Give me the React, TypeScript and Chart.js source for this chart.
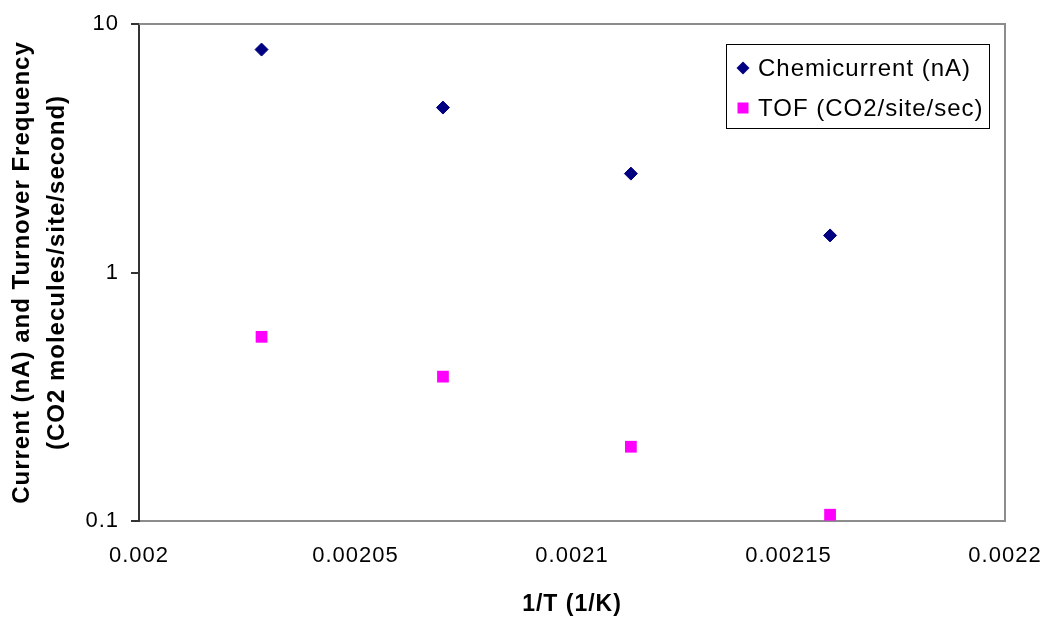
import React, { useEffect, useRef } from "react";
import { Chart, registerables } from "chart.js";

Chart.register(...registerables);

const invT = [0.0020283, 0.0020702, 0.0021136, 0.0021596];
const chemicurrent = [7.89, 4.61, 2.5, 1.41];
const tof = [0.551, 0.381, 0.199, 0.106];
const xTickValues = [0.002, 0.00205, 0.0021, 0.00215, 0.0022];
const yTickValues = [0.1, 1, 10];
const seriesNames = ["Chemicurrent (nA)", "TOF (CO2/site/sec)"];
const yTitle = ["Current (nA) and Turnover Frequency", "(CO2 molecules/site/second)"];
const xTitle = "1/T (1/K)";

const FONT = '"Liberation Sans", Arial, sans-serif';

const spacing = {
  id: "spacing",
  beforeDraw(chart: any) {
    chart.ctx.letterSpacing = "1px";
  },
};

const frameAndLegend = {
  id: "frameAndLegend",
  afterDraw(chart: any) {
    const { ctx, chartArea } = chart;
    ctx.save();
    ctx.strokeStyle = "#8c8c8c";
    ctx.lineWidth = 2;
    ctx.beginPath();
    ctx.moveTo(chartArea.left, chartArea.top);
    ctx.lineTo(chartArea.right, chartArea.top);
    ctx.lineTo(chartArea.right, chartArea.bottom);
    ctx.stroke();

    const bx = 726.5, by = 44.5, bw = 263, bh = 84;
    ctx.fillStyle = "#ffffff";
    ctx.fillRect(bx, by, bw, bh);
    ctx.strokeStyle = "#000000";
    ctx.lineWidth = 1;
    ctx.strokeRect(bx, by, bw, bh);
    ctx.letterSpacing = "1px";
    ctx.font = `24px ${FONT}`;
    ctx.textBaseline = "middle";
    ctx.textAlign = "left";
    const rows = [68, 108];
    chart.data.datasets.forEach((ds: any, i: number) => {
      const cy = rows[i];
      const cx = 743;
      ctx.fillStyle = ds.backgroundColor;
      ctx.beginPath();
      if (ds.pointStyle === "rectRot") {
        const r = 6.5;
        ctx.moveTo(cx - r, cy);
        ctx.lineTo(cx, cy - r);
        ctx.lineTo(cx + r, cy);
        ctx.lineTo(cx, cy + r);
        ctx.closePath();
      } else {
        ctx.rect(cx - 5.5, cy - 5.5, 11, 11);
      }
      ctx.fill();
      ctx.fillStyle = "#000000";
      ctx.fillText(ds.label, 758, cy + 1);
    });
    ctx.restore();
  },
};

export default function App() {
  const ref = useRef<HTMLCanvasElement | null>(null);

  useEffect(() => {
    if (!ref.current) return;
    const chart = new Chart(ref.current, {
      type: "scatter",
      data: {
        datasets: [
          {
            label: seriesNames[0],
            data: invT.map((x, i) => ({ x, y: chemicurrent[i] })),
            backgroundColor: "#000080",
            borderColor: "#000080",
            pointStyle: "rectRot",
            pointRadius: 6.5,
            borderWidth: 1,
          },
          {
            label: seriesNames[1],
            data: invT.map((x, i) => ({ x, y: tof[i] })),
            backgroundColor: "#ff00ff",
            borderColor: "#ff00ff",
            pointStyle: "rect",
            pointRadius: 8.3,
            borderWidth: 0,
          },
        ],
      },
      options: {
        responsive: false,
        animation: false,
        layout: { padding: { top: 24, right: 42, left: 0, bottom: 0 } },
        plugins: {
          legend: { display: false },
          tooltip: { enabled: false },
        },
        scales: {
          x: {
            type: "linear",
            min: 0.002,
            max: 0.0022,
            afterBuildTicks: (scale: any) => {
              scale.ticks = xTickValues.map((v) => ({ value: v }));
            },
            afterFit: (scale: any) => {
              scale.height = 97;
              scale.paddingLeft = 0;
              scale.paddingRight = 0;
            },
            grid: { display: false, drawTicks: false },
            border: { display: true, color: "#8c8c8c", width: 2 },
            ticks: {
              color: "#000000",
              font: { family: FONT, size: 22 },
              padding: 22,
              maxRotation: 0,
              autoSkip: false,
              callback: (v: any) => Number(Number(v).toFixed(6)).toString(),
            },
            title: {
              display: true,
              text: xTitle,
              color: "#000000",
              font: { family: FONT, size: 23, weight: "bold" },
              padding: { top: 0, bottom: 0 },
            },
          },
          y: {
            type: "logarithmic",
            min: 0.1,
            max: 10,
            afterBuildTicks: (scale: any) => {
              scale.ticks = yTickValues.map((v) => ({ value: v, major: true }));
            },
            afterFit: (scale: any) => {
              scale.width = 139;
              scale.paddingTop = 0;
              scale.paddingBottom = 0;
            },
            grid: {
              display: true,
              drawOnChartArea: false,
              drawTicks: true,
              tickLength: 8,
              color: "#333333",
              lineWidth: 2,
            },
            border: { display: true, color: "#333333", width: 2 },
            ticks: {
              color: "#000000",
              font: { family: FONT, size: 22 },
              padding: 12,
              autoSkip: false,
              callback: (v: any) => Number(v).toString(),
            },
            title: {
              display: true,
              text: yTitle,
              color: "#000000",
              font: { family: FONT, size: 24, weight: "bold", lineHeight: 1.46 },
              padding: { top: 5, bottom: 0 },
            },
          },
        },
      },
      plugins: [spacing, frameAndLegend],
    });
    return () => chart.destroy();
  }, []);

  return (
    <div style={{ position: "absolute", left: 0, top: 0, width: 1047, height: 618, background: "#ffffff" }}>
      <canvas ref={ref} width={1047} height={618} style={{ width: 1047, height: 618, display: "block" }} />
    </div>
  );
}
